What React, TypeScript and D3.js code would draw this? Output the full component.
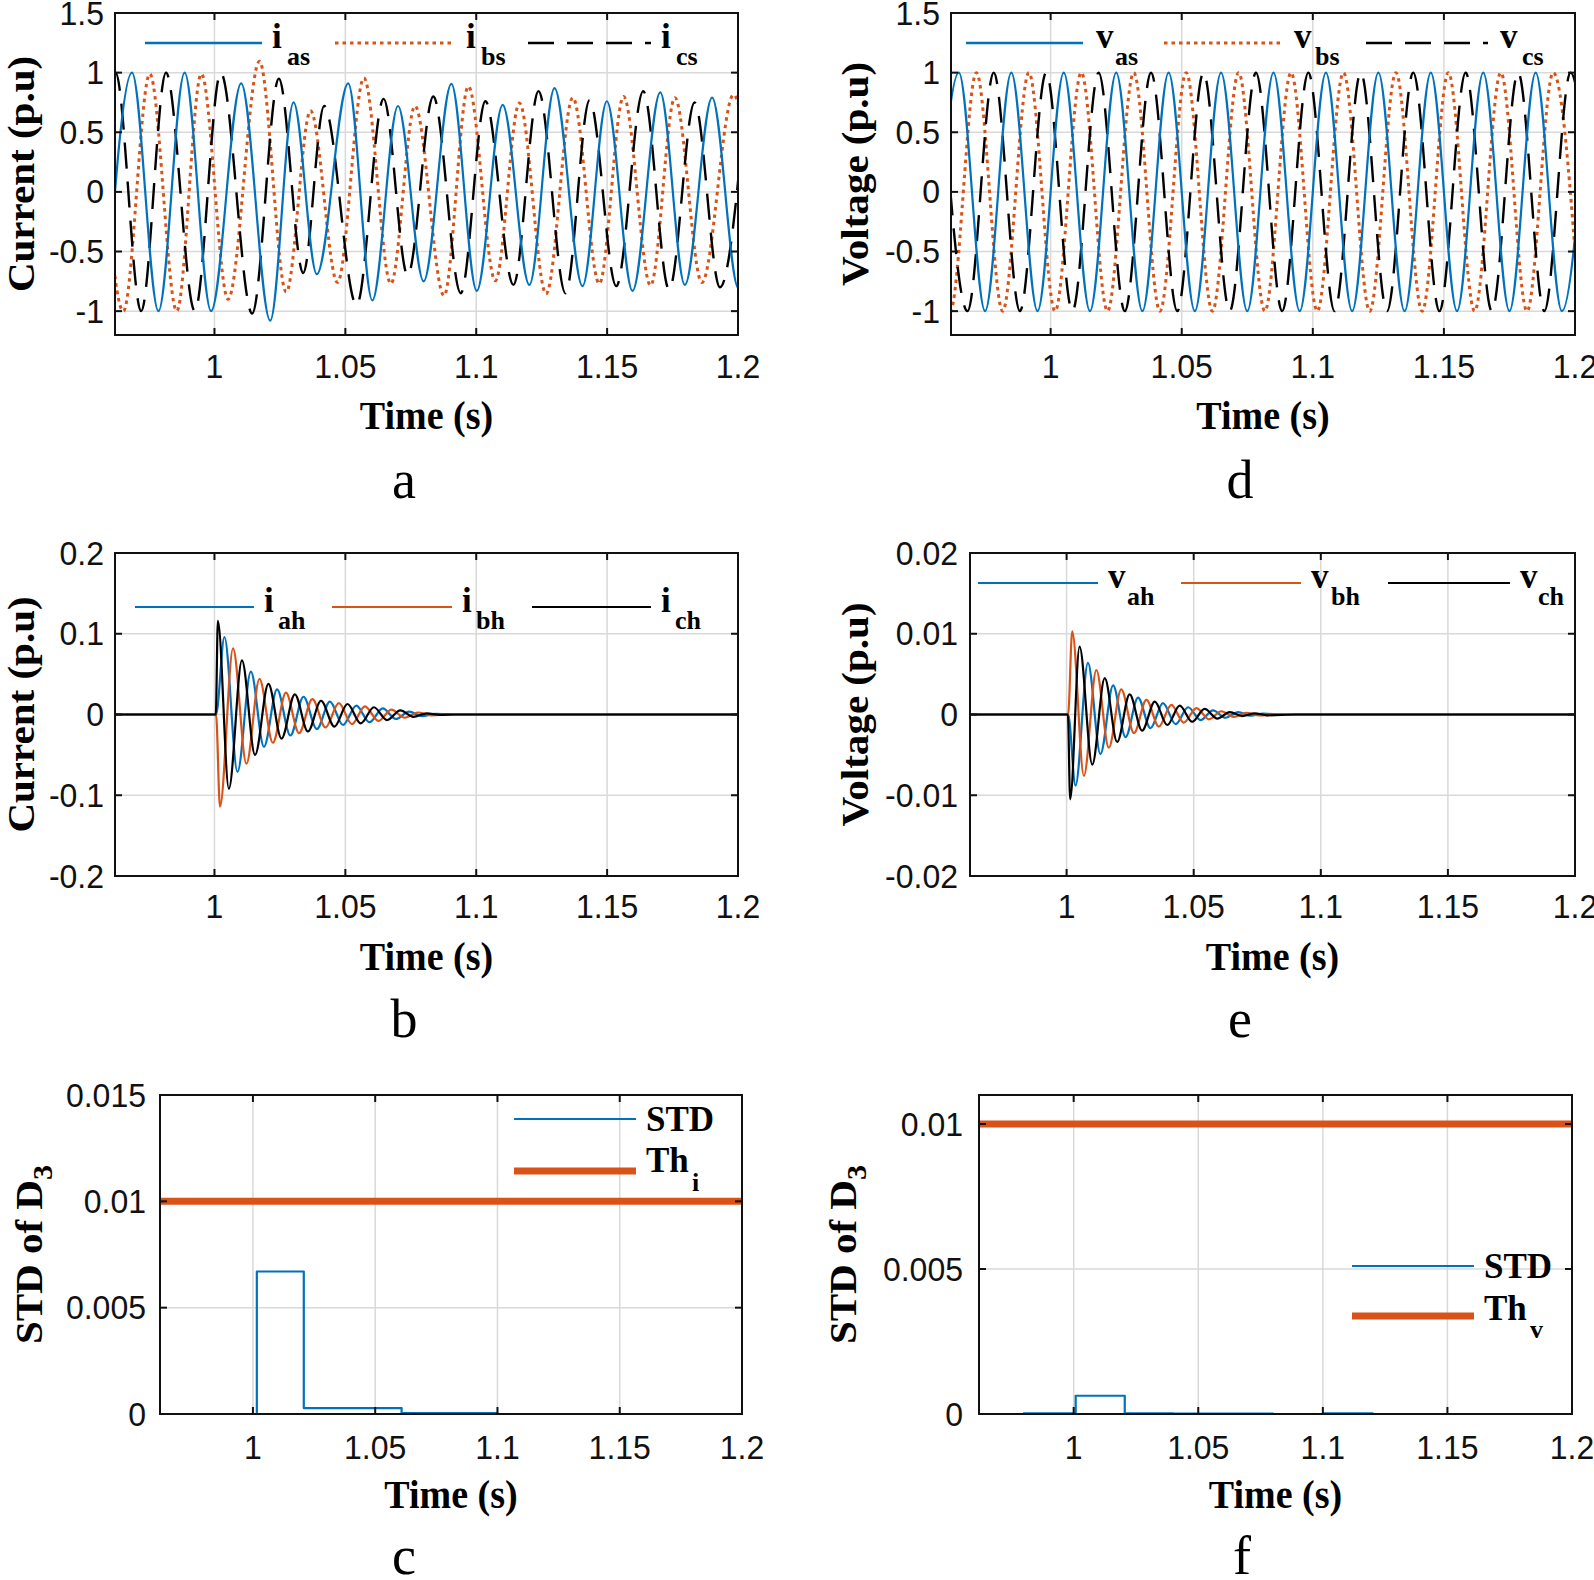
import React from "react";
import * as d3 from "d3";

type Pt = [number, number];

// ---------------- DATA ----------------
const xTicks = [1, 1.05, 1.1, 1.15, 1.2];
const xTickLabels = ["1", "1.05", "1.1", "1.15", "1.2"];
const xStart = 0.962;
const xEnd = 1.2;

// Panel a: source currents (extrema)
const iasExt: Pt[] = [[0.9585,-1.0],[0.9685,1.0],[0.9786,-1.0],[0.9886,1.0],[0.9987,-1.0],[1.0102,0.91],[1.0213,-1.08],[1.0302,0.75],[1.0391,-0.69],[1.0511,0.91],[1.0603,-0.91],[1.0701,0.72],[1.0799,-0.75],[1.0905,0.905],[1.1002,-0.83],[1.1101,0.73],[1.1203,-0.78],[1.1299,0.87],[1.1406,-0.79],[1.1499,0.76],[1.1597,-0.83],[1.1703,0.835],[1.1797,-0.78],[1.1901,0.79],[1.2002,-0.81],[1.21,0.8]];
const ibsExt: Pt[] = [[0.9555,0.99],[0.9652,-1.0],[0.9753,0.99],[0.9856,-1.0],[0.995,0.99],[1.0052,-0.9],[1.0172,1.095],[1.0274,-0.84],[1.0367,0.68],[1.047,-0.76],[1.0571,0.955],[1.0674,-0.77],[1.0766,0.72],[1.0877,-0.87],[1.097,0.885],[1.1073,-0.745],[1.1165,0.745],[1.1267,-0.855],[1.1369,0.79],[1.147,-0.77],[1.1563,0.8],[1.1666,-0.785],[1.1759,0.79],[1.1862,-0.76],[1.1983,0.815],[1.208,-0.78]];
const icsExt: Pt[] = [[0.952,-1.0],[0.9622,1.0],[0.972,-1.0],[0.9815,1.0],[0.9925,-1.0],[1.0024,1.0],[1.0144,-1.02],[1.0246,0.95],[1.0339,-0.68],[1.0419,0.72],[1.0543,-0.95],[1.0646,0.78],[1.0738,-0.7],[1.0836,0.8],[1.0941,-0.85],[1.1035,0.76],[1.1142,-0.78],[1.1238,0.845],[1.1341,-0.85],[1.1433,0.77],[1.1535,-0.79],[1.1638,0.845],[1.1737,-0.82],[1.1834,0.75],[1.1931,-0.8],[1.203,0.78]];

// Panel d: source voltages
const vasExt: Pt[] = [[0.955,-1],[0.965,1],[0.975,-1],[0.985,1],[0.995,-1],[1.005,1],[1.015,-1],[1.025,1],[1.035,-1],[1.045,1],[1.055,-1],[1.065,1],[1.075,-1],[1.085,1],[1.095,-1],[1.105,1],[1.115,-1],[1.125,1],[1.135,-1],[1.145,1],[1.155,-1],[1.165,1],[1.175,-1],[1.185,1],[1.195,-1],[1.205,1]];
const vbsExt: Pt[] = [[0.9517,1],[0.9617,-1],[0.9717,1],[0.9817,-1],[0.9917,1],[1.0017,-1],[1.0117,1],[1.0217,-1],[1.0317,1],[1.0417,-1],[1.0517,1],[1.0617,-1],[1.0717,1],[1.0817,-1],[1.0917,1],[1.1017,-1],[1.1117,1],[1.1217,-1],[1.1317,1],[1.1417,-1],[1.1517,1],[1.1617,-1],[1.1717,1],[1.1817,-1],[1.1917,1],[1.2017,-1]];
const vcsExt: Pt[] = [[0.9583,1],[0.9683,-1],[0.9783,1],[0.9883,-1],[0.9983,1],[1.0083,-1],[1.0183,1],[1.0283,-1],[1.0383,1],[1.0483,-1],[1.0583,1],[1.0683,-1],[1.0783,1],[1.0883,-1],[1.0983,1],[1.1083,-1],[1.1183,1],[1.1283,-1],[1.1383,1],[1.1483,-1],[1.1583,1],[1.1683,-1],[1.1783,1],[1.1883,-1],[1.1983,1],[1.2083,-1]];

// Panel b: harmonic currents
const iahPts: Pt[] = [[0.962,0],[1.0006,0],[1.0038,0.096],[1.0088,-0.071],[1.0139,0.053],[1.0189,-0.04],[1.0239,0.031],[1.029,-0.026],[1.034,0.022],[1.0391,-0.018],[1.0441,0.016],[1.0491,-0.013],[1.0542,0.011],[1.0592,-0.0095],[1.0643,0.0075],[1.0693,-0.0055],[1.0743,0.0035],[1.0794,-0.002],[1.0844,0.0008],[1.09,0],[1.2,0]];
const ibhPts: Pt[] = [[0.962,0],[1.0006,0],[1.0021,-0.114],[1.0071,0.082],[1.0122,-0.061],[1.0172,0.044],[1.0223,-0.035],[1.0273,0.027],[1.0323,-0.023],[1.0374,0.019],[1.0424,-0.016],[1.0475,0.014],[1.0525,-0.012],[1.0575,0.01],[1.0626,-0.008],[1.0676,0.006],[1.0727,-0.004],[1.0777,0.0025],[1.0828,-0.001],[1.09,0],[1.2,0]];
const ichPts: Pt[] = [[0.962,0],[1.0005,0],[1.0013,0.116],[1.0055,-0.092],[1.0105,0.067],[1.0155,-0.05],[1.0206,0.038],[1.0256,-0.03],[1.0307,0.025],[1.0357,-0.021],[1.0407,0.017],[1.0458,-0.015],[1.0508,0.013],[1.0559,-0.011],[1.0609,0.009],[1.0659,-0.007],[1.071,0.005],[1.076,-0.003],[1.0811,0.0015],[1.0861,-0.0005],[1.092,0],[1.2,0]];

// Panel e: harmonic voltages
const vahPts: Pt[] = [[0.962,0],[1.0006,0],[1.0035,-0.0088],[1.0084,0.0064],[1.0133,-0.0049],[1.0183,0.0036],[1.0232,-0.0028],[1.0281,0.0021],[1.033,-0.0017],[1.0379,0.0014],[1.0429,-0.0012],[1.0478,0.0009],[1.0527,-0.0007],[1.0576,0.0005],[1.0625,-0.0004],[1.0675,0.0003],[1.0724,-0.00015],[1.0773,0.0001],[1.085,0],[1.2,0]];
const vbhPts: Pt[] = [[0.962,0],[1.0006,0],[1.0022,0.0103],[1.0068,-0.0076],[1.0117,0.0055],[1.0166,-0.0041],[1.0215,0.0031],[1.0265,-0.0023],[1.0314,0.0018],[1.0363,-0.0015],[1.0412,0.0012],[1.0461,-0.001],[1.0511,0.0008],[1.056,-0.0006],[1.0609,0.0004],[1.0658,-0.0003],[1.0707,0.0002],[1.0757,-0.0001],[1.085,0],[1.2,0]];
const vchPts: Pt[] = [[0.962,0],[1.0005,0],[1.0014,-0.0105],[1.0051,0.0084],[1.0101,-0.0062],[1.015,0.0045],[1.0199,-0.0034],[1.0248,0.0025],[1.0297,-0.002],[1.0347,0.0016],[1.0396,-0.0013],[1.0445,0.0011],[1.0494,-0.0009],[1.0543,0.0007],[1.0593,-0.0005],[1.0642,0.0003],[1.0691,-0.0002],[1.074,0.00015],[1.0789,-0.0001],[1.09,0],[1.2,0]];

// Panel c / f: STD of D3 (step values) and thresholds
const stdITimes = [0.962, 1.0016, 1.0208, 1.0608, 1.1, 1.2];
const stdIValues = [0, 0.0067, 0.00028, 0.00004, 0, 0];
const stdVTimes = [0.962, 0.98, 1.0008, 1.0205, 1.04, 1.08, 1.1, 1.12, 1.2];
const stdVValues = [0, 0.00002, 0.00063, 0.00002, 0.00001, 0, 0.00002, 0, 0];
const thI = 0.01;
const thV = 0.01;

const yTicksA = [-1, -0.5, 0, 0.5, 1, 1.5];
const yLabelsA = ["-1", "-0.5", "0", "0.5", "1", "1.5"];
const yTicksB = [-0.2, -0.1, 0, 0.1, 0.2];
const yLabelsB = ["-0.2", "-0.1", "0", "0.1", "0.2"];
const yTicksE = [-0.02, -0.01, 0, 0.01, 0.02];
const yLabelsE = ["-0.02", "-0.01", "0", "0.01", "0.02"];
const yTicksC = [0, 0.005, 0.01, 0.015];
const yLabelsC = ["0", "0.005", "0.01", "0.015"];
const yTicksF = [0, 0.005, 0.01];
const yLabelsF = ["0", "0.005", "0.01"];

// ---------------- STYLE ----------------
const BLUE = "#0072BD";
const ORANGE = "#D95319";
const BLACK = "#000000";
const SANS = "'Liberation Sans', Arial, sans-serif";
const SERIF = "'Liberation Serif', 'Times New Roman', serif";
const TICK_FS = 32;
const LABEL_FS = 38;
const LEG_FS = 35;
const SUB_FS = 26;

interface Series {
  pts: Pt[];
  color: string;
  width: number;
  dash?: string;
  step?: boolean;
  linear?: boolean;
}
interface LegendItem {
  x1: number; x2: number; y: number;
  color: string; width: number; dash?: string;
  tx: number; ty: number; main: string;
  sx?: number; sy?: number; sub?: string;
}
interface Spec {
  id: string;
  l: number; r: number; t: number; b: number;
  yDomain: [number, number];
  yTicks: number[]; yLabels: string[];
  series: Series[];
  legend: LegendItem[];
  ylabel: string; ysub?: string; ylabelX: number;
  letter: string; letterX: number; letterY: number;
  yTickGap: number;
  xTickDy: number;
}

function Panel({ s }: { s: Spec }) {
  const x = d3.scaleLinear().domain([xStart, xEnd]).range([s.l, s.r]);
  const y = d3.scaleLinear().domain(s.yDomain).range([s.b, s.t]);
  const clip = "clip-" + s.id;
  const tl = 7;
  const mk = (ser: Series) => {
    const g = d3.line<Pt>().x(d => x(d[0])).y(d => y(d[1]));
    if (ser.step) g.curve(d3.curveStepAfter);
    else if (ser.linear) g.curve(d3.curveLinear);
    else g.curve(d3.curveMonotoneX);
    return g(ser.pts) || "";
  };
  const cx = (s.l + s.r) / 2;
  const cy = (s.t + s.b) / 2;
  return (
    <g>
      <defs>
        <clipPath id={clip}>
          <rect x={s.l} y={s.t} width={s.r - s.l} height={s.b - s.t} />
        </clipPath>
      </defs>
      {/* grid */}
      {xTicks.map((v, i) => (
        <line key={"gx" + i} x1={x(v)} x2={x(v)} y1={s.t} y2={s.b} stroke="#d9d9d9" strokeWidth={1.5} />
      ))}
      {s.yTicks.map((v, i) => (
        <line key={"gy" + i} x1={s.l} x2={s.r} y1={y(v)} y2={y(v)} stroke="#d9d9d9" strokeWidth={1.5} />
      ))}
      {/* data */}
      <g clipPath={`url(#${clip})`}>
        {s.series.map((ser, i) => (
          <path key={i} d={mk(ser)} fill="none" stroke={ser.color} strokeWidth={ser.width}
            strokeDasharray={ser.dash} strokeLinejoin="round" />
        ))}
      </g>
      {/* box */}
      <rect x={s.l} y={s.t} width={s.r - s.l} height={s.b - s.t} fill="none" stroke="#111" strokeWidth={2} />
      {/* ticks */}
      {xTicks.map((v, i) => (
        <g key={"tx" + i}>
          <line x1={x(v)} x2={x(v)} y1={s.b} y2={s.b - tl} stroke="#111" strokeWidth={2} />
          <line x1={x(v)} x2={x(v)} y1={s.t} y2={s.t + tl} stroke="#111" strokeWidth={2} />
          <text transform={`translate(${x(v)},${s.b + s.xTickDy}) scale(1,1.06)`} fontFamily={SANS} fontSize={TICK_FS}
            textAnchor="middle" fill="#111">
            {xTickLabels[i]}
          </text>
        </g>
      ))}
      {s.yTicks.map((v, i) => (
        <g key={"ty" + i}>
          <line x1={s.l} x2={s.l + tl} y1={y(v)} y2={y(v)} stroke="#111" strokeWidth={2} />
          <line x1={s.r} x2={s.r - tl} y1={y(v)} y2={y(v)} stroke="#111" strokeWidth={2} />
          <text transform={`translate(${s.l - s.yTickGap},${y(v) + 11.5}) scale(1,1.03)`} fontFamily={SANS}
            fontSize={TICK_FS} textAnchor="end" fill="#111">
            {s.yLabels[i]}
          </text>
        </g>
      ))}
      {/* legend */}
      {s.legend.map((it, i) => (
        <g key={"lg" + i}>
          <line x1={it.x1} x2={it.x2} y1={it.y} y2={it.y} stroke={it.color} strokeWidth={it.width} strokeDasharray={it.dash} />
          <text x={it.tx} y={it.ty} fontFamily={SERIF} fontWeight="bold" fontSize={LEG_FS} fill="#000">{it.main}</text>
          {it.sub ? (
            <text x={it.sx} y={it.sy} fontFamily={SERIF} fontWeight="bold" fontSize={SUB_FS} fill="#000">{it.sub}</text>
          ) : null}
        </g>
      ))}
      {/* axis labels */}
      <text transform={`translate(${cx},${s.b + 94}) scale(1,1.08)`} fontFamily={SERIF} fontWeight="bold"
        fontSize={LABEL_FS} textAnchor="middle" fill="#000">Time (s)</text>
      <text transform={`translate(${s.ylabelX},${cy}) rotate(-90) scale(1.08,1)`} fontFamily={SERIF} fontWeight="bold"
        fontSize={LABEL_FS} textAnchor="middle" fill="#000">
        {s.ylabel}
        {s.ysub ? <tspan dy={10} fontSize={28}>{s.ysub}</tspan> : null}
      </text>
      <text x={s.letterX} y={s.letterY} fontFamily={SERIF} fontSize={54} textAnchor="middle" fill="#000">{s.letter}</text>
    </g>
  );
}

export default function App() {
  const solid = 2.2;
  const dotted = "3.5 4";
  const dashed = "26 13";
  const specs: Spec[] = [
    {
      id: "a", l: 115, r: 738, t: 13, b: 335, yDomain: [-1.2, 1.5], yTicks: yTicksA, yLabels: yLabelsA,
      series: [
        { pts: ibsExt, color: ORANGE, width: 3, dash: dotted },
        { pts: icsExt, color: BLACK, width: 2.4, dash: dashed },
        { pts: iasExt, color: BLUE, width: solid },
      ],
      legend: [
        { x1: 145, x2: 262, y: 43, color: BLUE, width: 2.5, tx: 272, ty: 48, main: "i", sx: 287, sy: 65, sub: "as" },
        { x1: 335, x2: 454, y: 43, color: ORANGE, width: 3, dash: dotted, tx: 466, ty: 48, main: "i", sx: 481, sy: 65, sub: "bs" },
        { x1: 528, x2: 651, y: 43, color: BLACK, width: 2.4, dash: dashed, tx: 661, ty: 48, main: "i", sx: 676, sy: 65, sub: "cs" },
      ],
      ylabel: "Current (p.u)", ylabelX: 34, letter: "a", letterX: 404, letterY: 498, yTickGap: 11, xTickDy: 43,
    },
    {
      id: "d", l: 951, r: 1575, t: 13, b: 335, yDomain: [-1.2, 1.5], yTicks: yTicksA, yLabels: yLabelsA,
      series: [
        { pts: vbsExt, color: ORANGE, width: 3, dash: dotted },
        { pts: vcsExt, color: BLACK, width: 2.4, dash: dashed },
        { pts: vasExt, color: BLUE, width: solid },
      ],
      legend: [
        { x1: 966, x2: 1083, y: 43, color: BLUE, width: 2.5, tx: 1096, ty: 48, main: "v", sx: 1115, sy: 65, sub: "as" },
        { x1: 1164, x2: 1283, y: 43, color: ORANGE, width: 3, dash: dotted, tx: 1294, ty: 48, main: "v", sx: 1315, sy: 65, sub: "bs" },
        { x1: 1366, x2: 1488, y: 43, color: BLACK, width: 2.4, dash: dashed, tx: 1500, ty: 48, main: "v", sx: 1522, sy: 65, sub: "cs" },
      ],
      ylabel: "Voltage (p.u)", ylabelX: 868, letter: "d", letterX: 1240, letterY: 498, yTickGap: 11, xTickDy: 43,
    },
    {
      id: "b", l: 115, r: 738, t: 553, b: 876, yDomain: [-0.2, 0.2], yTicks: yTicksB, yLabels: yLabelsB,
      series: [
        { pts: iahPts, color: BLUE, width: 2.2 },
        { pts: ibhPts, color: ORANGE, width: 2.2 },
        { pts: ichPts, color: BLACK, width: 2.2 },
      ],
      legend: [
        { x1: 135, x2: 254, y: 607, color: BLUE, width: 2.2, tx: 264, ty: 612, main: "i", sx: 278, sy: 629, sub: "ah" },
        { x1: 332, x2: 452, y: 607, color: ORANGE, width: 2.2, tx: 462, ty: 612, main: "i", sx: 476, sy: 629, sub: "bh" },
        { x1: 532, x2: 651, y: 607, color: BLACK, width: 2.2, tx: 661, ty: 612, main: "i", sx: 675, sy: 629, sub: "ch" },
      ],
      ylabel: "Current (p.u)", ylabelX: 34, letter: "b", letterX: 404, letterY: 1037, yTickGap: 11, xTickDy: 42,
    },
    {
      id: "e", l: 970, r: 1575, t: 553, b: 876, yDomain: [-0.02, 0.02], yTicks: yTicksE, yLabels: yLabelsE,
      series: [
        { pts: vahPts, color: BLUE, width: 2.2 },
        { pts: vbhPts, color: ORANGE, width: 2.2 },
        { pts: vchPts, color: BLACK, width: 2.2 },
      ],
      legend: [
        { x1: 978, x2: 1098, y: 583, color: BLUE, width: 2.2, tx: 1108, ty: 588, main: "v", sx: 1127, sy: 605, sub: "ah" },
        { x1: 1181, x2: 1301, y: 583, color: ORANGE, width: 2.2, tx: 1311, ty: 588, main: "v", sx: 1331, sy: 605, sub: "bh" },
        { x1: 1388, x2: 1510, y: 583, color: BLACK, width: 2.2, tx: 1520, ty: 588, main: "v", sx: 1538, sy: 605, sub: "ch" },
      ],
      ylabel: "Voltage (p.u)", ylabelX: 868, letter: "e", letterX: 1240, letterY: 1037, yTickGap: 12, xTickDy: 42,
    },
    {
      id: "c", l: 160, r: 742, t: 1095, b: 1414, yDomain: [0, 0.015], yTicks: yTicksC, yLabels: yLabelsC,
      series: [
        { pts: [[xStart, 0], [xEnd, 0]], color: BLACK, width: 2, linear: true },
        { pts: stdITimes.map((t, i) => [t, stdIValues[i]] as Pt), color: BLUE, width: 2.2, step: true },
        { pts: [[xStart, thI], [xEnd, thI]], color: ORANGE, width: 7, linear: true },
      ],
      legend: [
        { x1: 514, x2: 636, y: 1119, color: BLUE, width: 2.2, tx: 646, ty: 1131, main: "STD" },
        { x1: 514, x2: 636, y: 1171, color: ORANGE, width: 7, tx: 646, ty: 1172, main: "Th", sx: 692, sy: 1191, sub: "i" },
      ],
      ylabel: "STD of D", ysub: "3", ylabelX: 42, letter: "c", letterX: 404, letterY: 1574, yTickGap: 14, xTickDy: 45,
    },
    {
      id: "f", l: 979, r: 1572, t: 1095, b: 1414, yDomain: [0, 0.011], yTicks: yTicksF, yLabels: yLabelsF,
      series: [
        { pts: [[xStart, 0], [xEnd, 0]], color: BLACK, width: 2, linear: true },
        { pts: stdVTimes.map((t, i) => [t, stdVValues[i]] as Pt), color: BLUE, width: 2.2, step: true },
        { pts: [[xStart, thV], [xEnd, thV]], color: ORANGE, width: 7, linear: true },
      ],
      legend: [
        { x1: 1352, x2: 1474, y: 1266, color: BLUE, width: 2.2, tx: 1484, ty: 1278, main: "STD" },
        { x1: 1352, x2: 1474, y: 1316, color: ORANGE, width: 7, tx: 1484, ty: 1320, main: "Th", sx: 1530, sy: 1338, sub: "v" },
      ],
      ylabel: "STD of D", ysub: "3", ylabelX: 856, letter: "f", letterX: 1242, letterY: 1574, yTickGap: 16, xTickDy: 45,
    },
  ];
  return (
    <svg width={1594} height={1580} style={{ position: "absolute", left: 0, top: 0, background: "#fff" }}>
      <rect x={0} y={0} width={1594} height={1580} fill="#fff" />
      {specs.map(s => <Panel key={s.id} s={s} />)}
    </svg>
  );
}
